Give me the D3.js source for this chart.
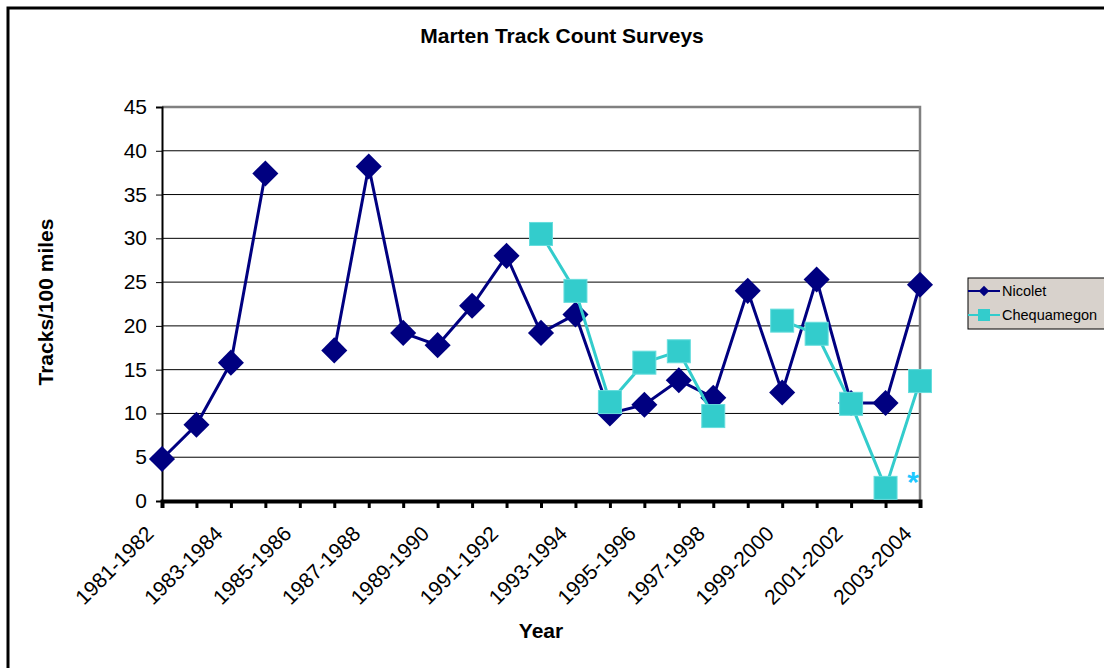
<!DOCTYPE html>
<html>
<head>
<meta charset="utf-8">
<script src="https://cdn.jsdelivr.net/npm/d3@7"></script>
<style>
  body { margin: 0; background: #fff; }
  svg { display: block; font-family: "Liberation Sans", Arial, sans-serif; }
</style>
</head>
<body>
<div class="chart"></div>
<script>
var seasons = ["1981-1982","1982-1983","1983-1984","1984-1985","1985-1986","1986-1987",
  "1987-1988","1988-1989","1989-1990","1990-1991","1991-1992","1992-1993","1993-1994",
  "1994-1995","1995-1996","1996-1997","1997-1998","1998-1999","1999-2000","2000-2001",
  "2001-2002","2002-2003","2003-2004"]
// null = no survey that season
var nicolet = [4.8,8.7,15.8,37.4,null,17.2,38.2,19.2,17.8,22.3,28.0,19.2,21.3,
  10.0,11.0,13.8,11.8,24.0,12.4,25.3,11.2,11.2,24.7]
var chequamegon = [null,null,null,null,null,null,null,null,null,null,null,30.5,24.0,
  11.3,15.8,17.1,9.7,null,20.6,19.1,11.1,1.5,13.7]
var yTicks = [0,5,10,15,20,25,30,35,40,45]

var width = 1104, height = 668

var svg = d3.select(".chart")
    .append("svg")
    .attr("width", width)
    .attr("height", height)

// outer frame
svg.append("rect")
    .attr("x", 8)
    .attr("y", 8)
    .attr("width", 1120)
    .attr("height", 700)
    .attr("fill", "#fff")
    .attr("stroke", "#000")
    .attr("stroke-width", 3)

function label(px, py, txt, size, opts) {
  opts = opts || {}
  var t = svg.append("text")
      .attr("transform", "translate(" + px + "," + py + ")" + (opts.rot ? " rotate(" + opts.rot + ")" : ""))
      .attr("text-anchor", opts.anchor || "start")
      .attr("font-size", size)
      .attr("fill", opts.fill || "#000")
      .text(txt)
  if (opts.bold) t.attr("font-weight", "bold")
  return t
}

var x = d3.scalePoint()
    .domain(seasons)
    .range([162, 920])

var y = d3.scaleLinear()
    .domain([0, 45])
    .range([501, 107])

// gridlines
svg.append("g")
    .selectAll("line")
    .data(yTicks.filter(d => d > 0 && d < 45))
    .join("line")
    .attr("x1", 162)
    .attr("x2", 920)
    .attr("y1", d => y(d))
    .attr("y2", d => y(d))
    .attr("stroke", "#000")
    .attr("stroke-width", 1)

// plot border top / right
svg.append("path")
    .attr("d", "M162," + y(45) + "H920V" + y(0))
    .attr("fill", "none")
    .attr("stroke", "#808080")
    .attr("stroke-width", 2.5)

// y axis
var yAxis = svg.append("g")
    .attr("transform", "translate(162,0)")
    .call(d3.axisLeft(y).tickValues(yTicks).tickSize(6).tickFormat(""))
yAxis.select(".domain").attr("stroke", "#000").attr("stroke-width", 2)
yAxis.selectAll(".tick line").attr("stroke", "#000")
yTicks.forEach(d => label(147, y(d) + 7, d, 21, {anchor: "end"}))

// x axis
var xAxis = svg.append("g")
    .attr("transform", "translate(0," + y(0) + ")")
    .call(d3.axisBottom(x).tickSizeOuter(0).tickSize(7).tickFormat(""))
xAxis.select(".domain").attr("stroke", "#000").attr("stroke-width", 4)
xAxis.selectAll(".tick line").attr("stroke", "#000").attr("stroke-width", 3)

seasons.forEach((d, i) => {
  if (i % 2 == 1) return
  label(x(d) - 7, 535, d, 21, {anchor: "end", rot: -45})
})

// lines
function drawSeries(vals, color) {
  var line = d3.line()
      .defined(d => d != null)
      .x((d, i) => x(seasons[i]))
      .y(d => y(d))
  svg.append("path")
      .datum(vals)
      .attr("d", line)
      .attr("fill", "none")
      .attr("stroke", color)
      .attr("stroke-width", 3)
}

var navy = "#000080", teal = "#33CCCC"

drawSeries(nicolet, navy)
svg.append("g")
    .selectAll("path")
    .data(nicolet.map((v, i) => [seasons[i], v]).filter(d => d[1] != null))
    .join("path")
    .attr("d", d3.symbol(d3.symbolSquare, 340))
    .attr("transform", d => "translate(" + x(d[0]) + "," + y(d[1]) + ") rotate(45)")
    .attr("fill", navy)

drawSeries(chequamegon, teal)
svg.append("g")
    .selectAll("rect")
    .data(chequamegon.map((v, i) => [seasons[i], v]).filter(d => d[1] != null))
    .join("rect")
    .attr("x", d => x(d[0]) - 11.5)
    .attr("y", d => y(d[1]) - 11.5)
    .attr("width", 23)
    .attr("height", 23)
    .attr("fill", teal)
    .attr("stroke", "#66dddd")
    .attr("stroke-width", 1)

// asterisk for the last Chequamegon season
label(x("2003-2004") - 7, y(0) - 9, "*", 30, {anchor: "middle", bold: true, fill: "#1ec8ff"})

// titles
label(562, 43, "Marten Track Count Surveys", 21, {anchor: "middle", bold: true})
label(541, 638, "Year", 21, {anchor: "middle", bold: true})
label(53, 302, "Tracks/100 miles", 21, {anchor: "middle", bold: true, rot: -90})

// legend
svg.append("rect")
    .attr("x", 968)
    .attr("y", 278)
    .attr("width", 150)
    .attr("height", 51)
    .attr("fill", "#d8d2cc")
    .attr("stroke", "#000")
    .attr("stroke-width", 1)

var items = [["Nicolet", navy, "diamond"], ["Chequamegon", teal, "square"]]
items.forEach((d, i) => {
  var ly = 291 + i * 24
  svg.append("line")
      .attr("x1", 968)
      .attr("x2", 1000)
      .attr("y1", ly)
      .attr("y2", ly)
      .attr("stroke", d[1])
      .attr("stroke-width", 2)
  if (d[2] == "diamond") {
    svg.append("path")
        .attr("d", d3.symbol(d3.symbolSquare, 55))
        .attr("transform", "translate(984," + ly + ") rotate(45)")
        .attr("fill", d[1])
  } else {
    svg.append("rect")
        .attr("x", 978)
        .attr("y", ly - 6)
        .attr("width", 12)
        .attr("height", 12)
        .attr("fill", d[1])
  }
  label(1002, ly + 5, d[0], 14.5)
})
</script>
</body>
</html>
